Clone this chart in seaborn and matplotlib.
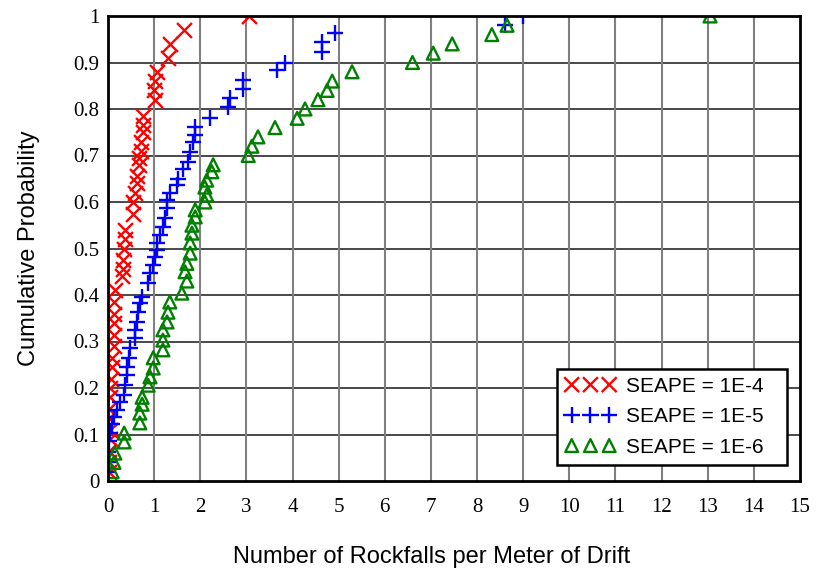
import matplotlib
matplotlib.use("Agg")
import matplotlib.pyplot as plt
import seaborn as sns
import pandas as pd

# Cumulative distributions of rockfall counts for three SEAPE levels
red_x = [0.02, 0.03, 0.03, 0.04, 0.04, 0.03, 0.03, 0.04, 0.05, 0.06, 0.09, 0.09,
         0.13, 0.13, 0.13, 0.13, 0.14, 0.15, 0.30, 0.33, 0.33, 0.34, 0.37, 0.37,
         0.55, 0.55, 0.58, 0.62, 0.63, 0.68, 0.68, 0.72, 0.72, 0.75, 0.75, 0.75,
         1.02, 1.00, 1.02, 1.07, 1.30, 1.35, 1.65, 3.05]
red_y = [0.02, 0.04, 0.065, 0.09, 0.11, 0.135, 0.155, 0.18, 0.20, 0.22, 0.245, 0.265,
         0.29, 0.315, 0.34, 0.36, 0.385, 0.41, 0.44, 0.455, 0.475, 0.50, 0.52, 0.54,
         0.575, 0.60, 0.62, 0.64, 0.655, 0.68, 0.695, 0.71, 0.73, 0.75, 0.765, 0.785,
         0.82, 0.84, 0.86, 0.88, 0.91, 0.94, 0.97, 1.00]

blue_x = [0.0, 0.0, 0.01, 0.03, 0.05, 0.09, 0.13, 0.20, 0.26, 0.35, 0.37, 0.41,
          0.41, 0.45, 0.48, 0.59, 0.59, 0.63, 0.65, 0.69, 0.74, 0.87, 0.91, 0.98,
          1.02, 1.06, 1.06, 1.13, 1.19, 1.24, 1.28, 1.28, 1.34, 1.49, 1.52, 1.63,
          1.74, 1.78, 1.85, 1.89, 1.89, 2.21, 2.60, 2.65, 2.93, 2.93, 3.66, 3.84,
          4.64, 4.64, 4.92, 8.60, 9.00]
blue_y = [0.02, 0.04, 0.062, 0.085, 0.103, 0.122, 0.138, 0.153, 0.17, 0.185, 0.206, 0.228,
          0.245, 0.265, 0.286, 0.307, 0.325, 0.342, 0.363, 0.383, 0.396, 0.426, 0.447, 0.465,
          0.482, 0.497, 0.512, 0.529, 0.546, 0.565, 0.587, 0.604, 0.62, 0.637, 0.65, 0.67,
          0.685, 0.708, 0.73, 0.744, 0.762, 0.78, 0.805, 0.823, 0.843, 0.862, 0.884, 0.90,
          0.923, 0.944, 0.963, 0.98, 1.00]

green_x = [0.09, 0.13, 0.15, 0.35, 0.35, 0.69, 0.69, 0.74, 0.74, 0.87, 0.91, 0.98,
           0.98, 1.19, 1.19, 1.19, 1.28, 1.30, 1.34, 1.60, 1.71, 1.67, 1.71, 1.78,
           1.78, 1.82, 1.82, 1.89, 1.89, 2.10, 2.14, 2.10, 2.14, 2.25, 2.28, 3.04,
           3.12, 3.25, 3.62, 4.10, 4.27, 4.55, 4.75, 4.86, 5.29, 6.60, 7.05, 7.46,
           8.32, 8.65, 13.05]
green_y = [0.02, 0.04, 0.06, 0.084, 0.103, 0.125, 0.146, 0.165, 0.18, 0.206, 0.224, 0.243,
           0.265, 0.282, 0.303, 0.325, 0.342, 0.363, 0.385, 0.404, 0.43, 0.45, 0.468, 0.49,
           0.512, 0.533, 0.55, 0.568, 0.583, 0.60, 0.615, 0.632, 0.647, 0.665, 0.68, 0.70,
           0.72, 0.74, 0.76, 0.78, 0.80, 0.82, 0.84, 0.86, 0.88, 0.90, 0.92, 0.94,
           0.96, 0.98, 1.00]

series_labels = ["SEAPE = 1E-4", "SEAPE = 1E-5", "SEAPE = 1E-6"]
x_ticks = list(range(0, 16))
y_ticks = [0, 0.1, 0.2, 0.3, 0.4, 0.5, 0.6, 0.7, 0.8, 0.9, 1]
y_tick_labels = ["0", "0.1", "0.2", "0.3", "0.4", "0.5", "0.6", "0.7", "0.8", "0.9", "1"]

sns.set_style("white")
plt.rcParams["text.color"] = "black"
plt.rcParams["axes.labelcolor"] = "black"

fig = plt.figure(figsize=(8.17, 5.72), dpi=100)
ax = fig.add_axes([108 / 817, 1 - 481 / 572, 692 / 817, 465 / 572])

red_df = pd.DataFrame({"x": red_x, "y": red_y})
blue_df = pd.DataFrame({"x": blue_x, "y": blue_y})
green_df = pd.DataFrame({"x": green_x, "y": green_y})

sns.scatterplot(data=red_df, x="x", y="y", ax=ax, marker="x", color="#ff0000",
                s=115, linewidth=1.7, label=series_labels[0], zorder=3)
sns.scatterplot(data=blue_df, x="x", y="y", ax=ax, marker="+", color="#0000ff",
                s=140, linewidth=1.7, label=series_labels[1], zorder=3)
sns.scatterplot(data=green_df, x="x", y="y", ax=ax, marker="^", facecolor="none",
                edgecolor="#008000", s=85, linewidth=1.7, label=series_labels[2],
                zorder=3)

ax.set_xlim(0, 15)
ax.set_ylim(0, 1)
ax.set_xticks(x_ticks)
ax.set_yticks(y_ticks)
ax.set_yticklabels(y_tick_labels)

# gridlines: darker horizontals, grey verticals
for yv in y_ticks[1:-1]:
    ax.axhline(yv, color="#3a3a3a", lw=1.3, zorder=1)
for xv in x_ticks[1:-1]:
    ax.axvline(xv, color="#808080", lw=1.5, zorder=1)

for side in ["left", "right", "top", "bottom"]:
    ax.spines[side].set_visible(True)
    ax.spines[side].set_color("black")
    ax.spines[side].set_linewidth(2.0)
    ax.spines[side].set_zorder(4)

ax.tick_params(axis="both", length=0, labelsize=15, colors="black")
ax.tick_params(axis="x", pad=12)
ax.tick_params(axis="y", pad=6)
for lbl in ax.get_xticklabels() + ax.get_yticklabels():
    lbl.set_family("Liberation Serif")

ax.set_xlabel("Number of Rockfalls per Meter of Drift", family="Liberation Sans",
              fontsize=17, color="black")
ax.xaxis.set_label_coords(0.468, -0.14)
ax.set_ylabel("Cumulative Probability", family="Liberation Sans", fontsize=17,
              labelpad=24, color="black")

leg = ax.legend(loc="lower left", bbox_to_anchor=(0.649, 0.034, 0.332, 0.21),
                mode="expand", scatterpoints=3,
                scatteryoffsets=[0.5], handlelength=2.4,
                handletextpad=0.5, borderpad=0.4, labelspacing=0.55,
                borderaxespad=0.0,
                fancybox=False, framealpha=1, edgecolor="black",
                prop={"family": "Liberation Sans", "size": 15})
leg.get_frame().set_linewidth(1.8)
leg.set_zorder(5)
for t in leg.get_texts():
    t.set_color("black")

fig.savefig("out.png", dpi=100)
